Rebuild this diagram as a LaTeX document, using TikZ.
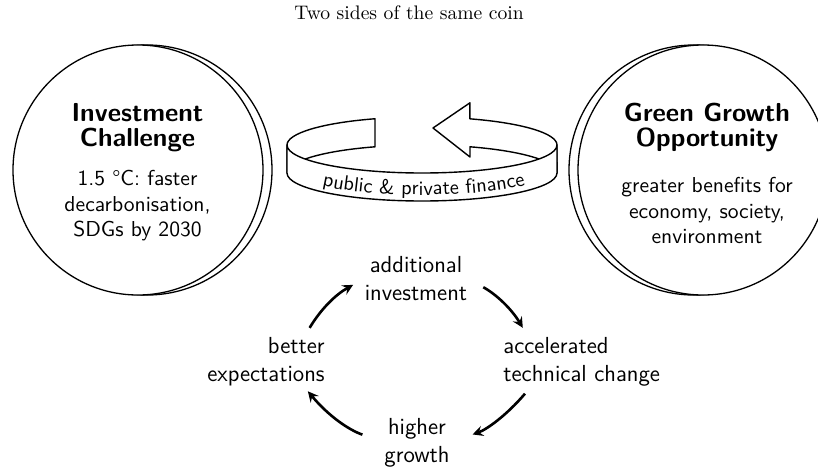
\documentclass[tikz,border=0pt]{standalone}
\usetikzlibrary{positioning,decorations.text}
\tikzstyle{coin} = [draw, circle, fill=white, minimum size=125pt, inner sep=0pt, line width=0.65pt]
\tikzstyle{cointitle} = [align=center, font=\sffamily\bfseries\fontsize{13}{12.5}\selectfont]
\tikzstyle{cointext} = [align=center, font=\sffamily\fontsize{10.8}{12.8}\selectfont]
\tikzstyle{cyclabel} = [inner sep=0pt, align=center, font=\sffamily\fontsize{11.6}{14}\selectfont]
\tikzstyle{cycarrow} = [line width=1.3pt,->,>=stealth]
\tikzstyle{band} = [draw, fill=white, line width=0.7pt, line join=round]

\begin{document}
\begin{tikzpicture}[x=0.5pt,y=0.5pt]
    \useasboundingbox (0,0) rectangle (818,468);
    \node (title) at (409,455) {\fontsize{9.8}{11}\selectfont Two sides of the same coin};

    % left coin
    \node (inv-back) [coin] at (147,298) {};
    \node (inv-coin) [coin] at (138,298) {};
    \node (inv-title) [cointitle] at (137.5,340) {Investment\\Challenge};
    \node (inv-text) [cointext, below=2pt of inv-title] {1.5 \textdegree C: faster\\decarbonisation,\\SDGs by 2030};

    % right coin
    \node (grow-back) [coin] at (694,298) {};
    \node (grow-coin) [coin] at (703,298) {};
    \node (grow-title) [cointitle] at (707,341) {Green Growth\\Opportunity};
    \node (grow-text) [cointext, below=6pt of grow-title] {greater benefits for\\economy, society,\\environment};

    % ring arrow
    \path [band] (287,323) arc [start angle=180, end angle=110.4, x radius=135, y radius=28]
      -- (375,321.2) arc [start angle=110.4, end angle=180, x radius=135, y radius=28] -- cycle;
    \path [band] (557,323) arc [start angle=0, end angle=69.2, x radius=135, y radius=28]
      -- ++(0,16) -- (433,340) -- (470,311) -- (470,321.2)
      arc [start angle=69.2, end angle=0, x radius=135, y radius=28] -- cycle;
    \path [band] (557,323) arc [start angle=0, end angle=-180, x radius=135, y radius=28]
      -- (287,295) arc [start angle=180, end angle=360, x radius=135, y radius=28] -- cycle;
    \path [decorate, decoration={text along path, text align=center,
      text={|\sffamily\fontsize{10.2}{12}\selectfont|public {\&} private finance}}]
      (296.8,290.5) arc [start angle=202, end angle=342, x radius=135, y radius=28];

    % cycle
    \node (cyc-invest) [cyclabel] at (416,189.5) {additional\\investment};
    \node (cyc-tech) [cyclabel, anchor=west, align=left] at (503,106) {accelerated\\technical change};
    \node (cyc-growth) [cyclabel] at (417,25.5) {higher\\growth};
    \node (cyc-expect) [cyclabel, anchor=east, align=right] at (325,106) {better\\expectations};

    \draw [cycarrow, shorten <=5.5pt, shorten >=6.5pt] (cyc-expect.33) to [bend left=15] (cyc-invest.west);
    \draw [cycarrow, shorten <=9pt, shorten >=5.5pt] (cyc-invest.east) to [bend left=15] (cyc-tech.155);
    \draw [cycarrow, shorten <=4.5pt, shorten >=12pt] (cyc-tech.206) to [bend left=15] (cyc-growth.east);
    \draw [cycarrow, shorten <=11.5pt, shorten >=3pt] (cyc-growth.west) to [bend left=15] (cyc-expect.-33);

  \end{tikzpicture}
\end{document}
